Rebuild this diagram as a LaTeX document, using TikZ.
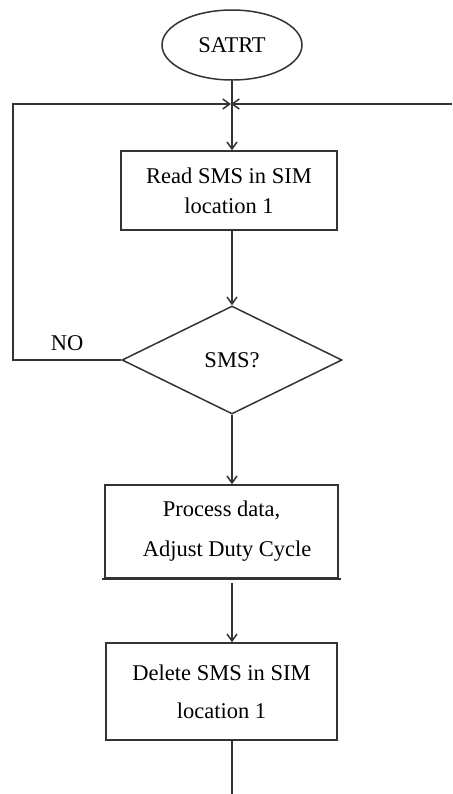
\documentclass[tikz,border=0pt]{standalone}
\usepackage{fontspec}
\setmainfont{Liberation Serif}
\usetikzlibrary{shapes.geometric,arrows.meta}

\begin{document}
\begin{tikzpicture}[x=0.5pt, y=-0.5pt, line width=0.75pt, draw=black!80,
    font=\fontsize{11.25}{15}\selectfont,
    >={Straight Barb[length=3.5pt,width=5pt]},
    box/.style={draw, rectangle, inner sep=0pt, align=center},
    flow/.style={->, draw=black!80}]
  \useasboundingbox (0,0) rectangle (452,794);
  \node[draw, ellipse, inner sep=0pt, minimum width=70pt, minimum height=35pt] (start) at (232,45) {SATRT};
  \coordinate (jn) at (231,104);
  \coordinate (lc) at (13,104);
  \coordinate (rc) at (452,104);
  \node[box, minimum width=108pt, minimum height=39.5pt] (read) at (229,190.5) {Read SMS in SIM\\location 1};
  \node[draw, diamond, inner sep=0pt, minimum width=110pt, minimum height=54pt] (sms) at (232,360) {SMS?};
  \node[box, minimum width=116.5pt, minimum height=46.5pt] (proc) at (221.5,531.5) {Process data,\\[5pt]\ \ Adjust Duty Cycle};
  \node[box, minimum width=115.5pt, minimum height=48.5pt] (del) at (221.5,691.5) {Delete SMS in SIM\\[4pt]location 1};
  \coordinate (bot) at (232,794);
  \draw[flow] (start.south) -- (start.south |- read.north);
  \draw[flow] (rc) -- (jn);
  \draw[flow] (sms.west) -| node[pos=0.25, above=1pt] {NO} (lc) -- (jn);
  \draw[flow] (sms.north |- read.south) -- (sms.north);
  \draw[flow] (sms.south) -- (sms.south |- proc.north);
  \draw[line width=1.2pt] ([xshift=-1pt]proc.south west) -- ([xshift=1pt]proc.south east);
  \draw[flow] ([yshift=-2pt]sms.south |- proc.south) -- (sms.south |- del.north);
  \draw (bot |- del.south) -- (bot);
\end{tikzpicture}
\end{document}
